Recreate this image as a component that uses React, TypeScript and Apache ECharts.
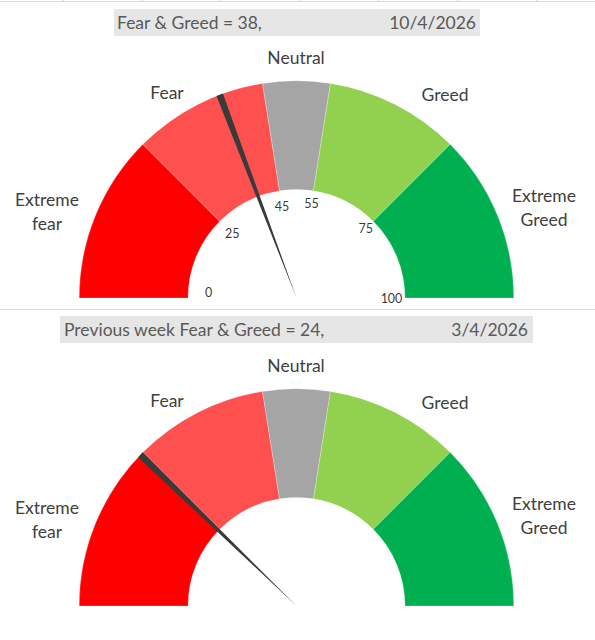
import React, { useEffect, useRef } from "react";
import * as echarts from "echarts";

// ---- data ----
const CATEGORIES = ["Extreme fear", "Fear", "Neutral", "Greed", "Extreme Greed"];
const SEGMENT_SIZES = [25, 20, 10, 20, 25];
const TICK_VALUES = [0, 25, 45, 55, 75, 100];
const CURRENT_VALUE = 38;
const CURRENT_DATE = "10/4/2026";
const PREVIOUS_VALUE = 24;
const PREVIOUS_DATE = "3/4/2026";
const NEEDLE_WIDTH = 1;

// ---- styles / layout ----
const SEGMENT_COLORS = ["#FF0000", "#FF5050", "#A5A5A5", "#92D050", "#00B050"];
const NEEDLE_COLOR = "#3A3A3A";
const FONT = "Lato, 'Open Sans', sans-serif";
const CX = 296.5;
const CYS = [298, 606];
const R_IN = 108.5;
const R_OUT = 217.3;
const LABEL_OFFSETS: [number, number][] = [
  [-249.5, -87],
  [-129.5, -206],
  [-0.5, -241],
  [148.5, -204],
  [247.5, -91],
];
const TICK_RADII = [88, 91, 93, 96, 98, 95];

export default function App() {
  const ref = useRef<HTMLDivElement>(null);
  useEffect(() => {
    if (!ref.current) return;
    const chart = echarts.init(ref.current, undefined, { renderer: "svg" });

    const gauges = [
      { value: CURRENT_VALUE, date: CURRENT_DATE, title: `Fear & Greed = ${CURRENT_VALUE},`, cy: CYS[0], ticks: true,
        bar: { x: 114, y: 9, w: 366, h: 27, tx: 117, dx: 476 } },
      { value: PREVIOUS_VALUE, date: PREVIOUS_DATE, title: `Previous week Fear & Greed = ${PREVIOUS_VALUE},`, cy: CYS[1], ticks: false,
        bar: { x: 60, y: 316, w: 473, h: 27, tx: 64, dx: 528 } },
    ];

    const series: any[] = [];
    const graphic: any[] = [];

    // sheet gridlines
    graphic.push({ type: "line", shape: { x1: 0, y1: 1.5, x2: 595, y2: 1.5 }, style: { stroke: "#D9D9D9", lineWidth: 1 }, silent: true });
    [63, 142, 220, 300, 378, 457, 536].forEach((x) =>
      graphic.push({ type: "line", shape: { x1: x + 0.5, y1: 0, x2: x + 0.5, y2: 2 }, style: { stroke: "#D9D9D9", lineWidth: 1 }, silent: true })
    );
    graphic.push({ type: "line", shape: { x1: 0, y1: 309.5, x2: 595, y2: 309.5 }, style: { stroke: "#D9D9D9", lineWidth: 1 }, silent: true });

    gauges.forEach((g, gi) => {
      series.push({
        type: "pie",
        center: [CX, g.cy],
        radius: [R_IN, R_OUT],
        startAngle: 180,
        endAngle: 0,
        clockwise: true,
        silent: true,
        label: { show: false },
        labelLine: { show: false },
        itemStyle: { borderColor: "rgba(255,255,255,0.6)", borderWidth: 0.4 },
        data: CATEGORIES.map((c, i) => ({ name: c, value: SEGMENT_SIZES[i], itemStyle: { color: SEGMENT_COLORS[i] } })),
        z: 2,
      });
      series.push({
        type: "pie",
        center: [CX, g.cy],
        radius: [0, R_OUT],
        startAngle: 180,
        endAngle: 0,
        clockwise: true,
        silent: true,
        label: { show: false },
        labelLine: { show: false },
        data: [
          { name: "before", value: g.value, itemStyle: { color: "rgba(0,0,0,0)" } },
          { name: "needle", value: NEEDLE_WIDTH, itemStyle: { color: NEEDLE_COLOR } },
          { name: "after", value: 100 - g.value - NEEDLE_WIDTH, itemStyle: { color: "rgba(0,0,0,0)" } },
        ],
        z: 5,
      });
      if (g.ticks) {
        series.push({
          type: "scatter",
          coordinateSystem: "polar",
          polarIndex: gi,
          symbolSize: 1,
          silent: true,
          itemStyle: { color: "rgba(0,0,0,0)" },
          label: {
            show: true,
            position: "inside",
            color: "#000000",
            fontSize: 12.5,
            fontFamily: FONT,
            formatter: (p: any) => String(p.value[1]),
          },
          data: TICK_VALUES.map((v, i) => ({
            value: [TICK_RADII[i], v],
            label: i === 0 ? { offset: [0, -6] } : undefined,
          })),
          z: 4,
        });
      }
      // title bar
      graphic.push({ type: "rect", shape: { x: g.bar.x, y: g.bar.y, width: g.bar.w, height: g.bar.h }, style: { fill: "#E7E6E6" }, silent: true });
      graphic.push({ type: "text", x: g.bar.tx, y: g.bar.y + g.bar.h / 2, style: { text: g.title, fill: "#595959", font: `17.5px ${FONT}`, textAlign: "left", textVerticalAlign: "middle" }, silent: true });
      graphic.push({ type: "text", x: g.bar.dx, y: g.bar.y + g.bar.h / 2, style: { text: g.date, fill: "#595959", font: `17.5px ${FONT}`, textAlign: "right", textVerticalAlign: "middle" }, silent: true });
      // category labels
      CATEGORIES.forEach((c, i) => {
        const words = c.split(" ");
        const txt = words.length > 1 ? words.join("\n") : c;
        graphic.push({
          type: "text",
          x: CX + LABEL_OFFSETS[i][0],
          y: g.cy + LABEL_OFFSETS[i][1],
          style: { text: txt, fill: "#404040", font: `17.5px ${FONT}`, textAlign: "center", textVerticalAlign: "middle", lineHeight: 24 },
          silent: true,
        });
      });
    });

    const option: any = {
      animation: false,
      backgroundColor: "#ffffff",
      polar: gauges.map((g) => ({ center: [CX, g.cy], radius: R_OUT })),
      angleAxis: gauges.map((_, gi) => ({ polarIndex: gi, type: "value", min: 0, max: 200, startAngle: 180, clockwise: true, show: false })),
      radiusAxis: gauges.map((_, gi) => ({ polarIndex: gi, type: "value", min: 0, max: R_OUT, show: false })),
      series,
      graphic,
    };
    chart.setOption(option);
    return () => chart.dispose();
  }, []);
  return <div ref={ref} style={{ position: "absolute", left: 0, top: 0, width: 595, height: 640 }} />;
}
